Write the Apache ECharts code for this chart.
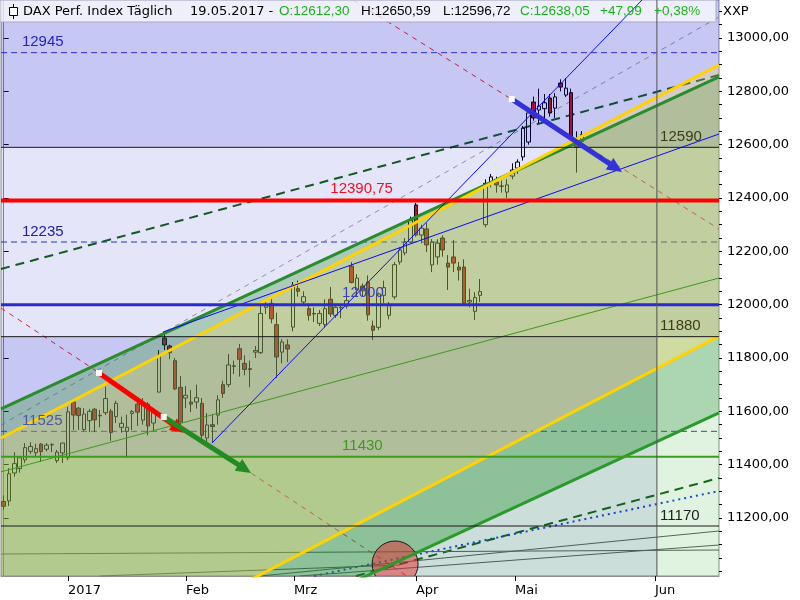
<!DOCTYPE html>
<html><head><meta charset="utf-8">
<script src="https://cdn.jsdelivr.net/npm/echarts@6/dist/echarts.min.js"></script>
<style>html,body{margin:0;padding:0;background:#fff}#c{width:800px;height:600px}</style>
</head><body><div id="c"></div>
<script>
// ================= DATA =================
const dates = ['2016-12-14','12-15','12-16','12-19','12-20','12-21','12-22','12-23','12-27','12-28','12-29','12-30',
 '2017-01-02','01-03','01-04','01-05','01-06','01-09','01-10','01-11','01-12','01-13','01-16','01-17','01-18','01-19','01-20','01-23','01-24','01-25','01-26','01-27','01-30','01-31',
 '02-01','02-02','02-03','02-06','02-07','02-08','02-09','02-10','02-13','02-14','02-15','02-16','02-17','02-20','02-21','02-22','02-23','02-24','02-27','02-28',
 '03-01','03-02','03-03','03-06','03-07','03-08','03-09','03-10','03-13','03-14','03-15','03-16','03-17','03-20','03-21','03-22','03-23','03-24','03-27','03-28','03-29','03-30','03-31',
 '04-03','04-04','04-05','04-06','04-07','04-10','04-11','04-12','04-13','04-18','04-19','04-20','04-21','04-24','04-25','04-26','04-27','04-28',
 '05-02','05-03','05-04','05-05','05-08','05-09','05-10','05-11','05-12','05-15','05-16','05-17','05-18','05-19'];
const opens = [11262,11264,11369,11385,11418,11450,11445,11477,11458,11474,11415,11444,
 11426,11635,11612,11532,11565,11608,11585,11595,11600,11580,11540,11525,11592,11627,11567,11627,11556,11672,11875,11845,11790,11690,
 11650,11635,11635,11630,11500,11550,11586,11700,11700,11768,11835,11780,11760,11822,11820,11990,12005,11925,11822,11849,
 11916,12060,12010,11985,11965,11930,11925,12020,11960,11990,11995,12145,12055,12070,12085,11920,11915,12035,11960,12029,12160,12194,12235,
 12374,12261,12284,12149,12179,12250,12156,12179,12141,12141,12010,11975,12035,12300,12456,12460,12445,12422,
 12482,12512,12554,12610,12760,12730,12735,12775,12737,12831,12786,12795,12604,12612.30];
const closes = [11244,11366,11404,11426,11464,11468,11460,11449,11473,11476,11447,11481,
 11598,11586,11584,11590,11600,11568,11583,11648,11521,11630,11555,11540,11599,11597,11623,11545,11595,11810,11849,11820,11684,11560,
 11660,11627,11651,11510,11549,11543,11643,11667,11774,11771,11795,11757,11757,11828,11967,11998,11947,11804,11860,11834,
 12074,12050,12030,11960,11967,11967,11985,11965,11990,11988,12015,12083,12100,12052,11962,11904,12040,12064,12000,12150,12205,12235,12317,
 12261,12287,12224,12235,12231,12205,12141,12156,12130,12006,12016,12027,12049,12455,12479,12449,12444,12449,
 12505,12535,12662,12719,12700,12745,12757,12719,12779,12816,12812,12631,12590.06,12638.05];
const lows = [11232,11245,11355,11370,11406,11440,11430,11410,11450,11447,11406,11406,
 11417,11530,11530,11525,11522,11522,11540,11586,11489,11556,11520,11425,11530,11545,11550,11510,11530,11672,11830,11796,11680,11545,
 11612,11597,11610,11500,11481,11481,11550,11650,11690,11740,11730,11735,11690,11800,11815,11965,11930,11725,11780,11785,
 11900,12030,11995,11940,11935,11920,11915,11954,11950,11950,11985,12080,12029,12030,11940,11868,11905,12005,11945,12020,12150,12185,12230,
 12255,12230,12197,12122,12150,12180,12055,12122,12090,11995,11990,11943,12010,12290,12440,12420,12420,12400,
 12470,12490,12540,12600,12690,12680,12690,12705,12700,12800,12779,12620,12495,12596.72];
const highs = [11285,11387,11447,11432,11481,11484,11478,11481,11481,11480,11455,11482,
 11617,11642,11616,11612,11609,11612,11605,11692,11609,11640,11580,11587,11605,11635,11650,11635,11605,11830,11894,11850,11800,11732,
 11695,11680,11700,11650,11593,11590,11660,11715,11815,11790,11853,11810,11790,11845,12010,12015,12030,11970,11870,11870,
 12085,12090,12050,11995,11990,11980,12020,12066,12000,11995,12030,12160,12115,12080,12110,11940,12045,12090,12010,12160,12215,12250,12330,
 12381,12300,12306,12246,12245,12260,12186,12242,12160,12170,12060,12047,12096,12470,12490,12480,12465,12470,
 12530,12545,12670,12740,12780,12810,12790,12790,12793,12845,12850,12810,12650,12650.59];

// x axis: bar index (future area extends to the right)
const monthTickPos = [12, 34.05, 54.2, 77, 95.5, 121.65];
const monthLabels = ['2017','Feb','Mrz','Apr','Mai','Jun'];
const yTickLabels = [11200,11400,11600,11800,12000,12200,12400,12600,12800,13000];
const yMinorTicks = [11000,11050,11100,11150,11200,11250,11300,11350,11400,11450,11500,11550,11600,11650,11700,11750,11800,11850,11900,11950,12000,12050,12100,12150,12200,12250,12300,12350,12400,12450,12500,12550,12600,12650,12700,12750,12800,12850,12900,12950,13000,13050,13100];
const levels = [12945, 12590, 12390.75, 12235, 12000, 11880, 11525, 11430, 11170];
const futureEdge = 122.0;   // vertical line (bar index)

// trend lines: two anchor points each, [bar index, price]
const lineA = [[-0.5, 11609], [133.6, 12854]];
const lineB = [[-0.5, 11500], [133.6, 12899]];
const lineC = [[47.5, 10983], [133.6, 11882]];
const lineD = [[67.8, 10983], [133.6, 11594]];
const lineE = [[-0.5, 11373], [133.6, 12100]];
const blue1 = [[29.76, 11897.5], [133.6, 12640]];
const blue2 = [[38.9, 11481], [125, 13262]];
const grayDash = [[-0.5, 11548.75], [133.6, 13078.75]];
const greenDashUp = [[-0.5, 12133.75], [133.6, 12861.25]];
const greenDashLow = [[65.8, 10982.5], [133.6, 11350]];
const blueDot = [[58.0, 10982.5], [133.6, 11301.25]];
const redDash1 = [[-0.5, 11987.5], [75.3, 10982.5]];
const redDash2 = [[65.25, 13142.5], [133.6, 12283.75]];
const fan0 = [[-0.5, 11065], [133.6, 11080]];
const fan1 = [[47.9, 10982.5], [133.6, 11151.25]];
const fan2 = [[55.3, 10982.5], [133.6, 11098.75]];
const fan3 = [[18.0, 10982.5], [74.0, 11023.75]];
const arrowRed = [[17.8, 11744], [33.9, 11519]];
const arrowGreen = [[29.9, 11579], [46.2, 11369]];
const arrowBlue = [[94.9, 12771], [115.5, 12497.5]];
const circleCenter = [73.1, 11027.5];

// ================= SETUP =================
const X_MIN = -0.5, X_MAX = 133.6, Y_MIN = 10982.5, Y_MAX = 13142.5;
const fmt = v => v.toFixed(2).replace('.', ',');
const lvlText = v => Number.isInteger(v) ? String(v) : fmt(v);
function yAt(l, x) { const [[x1,y1],[x2,y2]] = l; return y1 + (y2 - y1) * (x - x1) / (x2 - x1); }
function xAt(l, y) { const [[x1,y1],[x2,y2]] = l; return x1 + (x2 - x1) * (y - y1) / (y2 - y1); }
function span(l) { return [[X_MIN, yAt(l, X_MIN)], [X_MAX, yAt(l, X_MAX)]]; }
function seg(l, xa, xb) { return [[xa, yAt(l, xa)], [xb, yAt(l, xb)]]; }

const levelStyles = [
  {c:'#3a3ae0', w:1, dash:[6,4], under:true,  lx:3.4,   lc:'#2424c8'},
  {c:'#1a1a1a', w:1, dash:'solid', under:false, lx:122.6, lc:'#3c3c14'},
  {c:'#ff0000', w:4, dash:'solid', under:false, lx:61,    lc:'#f01020'},
  {c:'#2a3ab0', w:1, dash:[6,4], under:true,  lx:3.4,   lc:'#2020a8'},
  {c:'#2a2ad2', w:3, dash:'solid', under:false, lx:63.2,  lc:'#3c3cc4'},
  {c:'#1a1a1a', w:1, dash:'solid', under:false, lx:122.6, lc:'#3c3c14'},
  {c:'#3a4aa0', w:1, dash:[6,4], under:true,  lx:3.4,   lc:'#4a5a98'},
  {c:'#3c9c1c', w:2, dash:'solid', under:false, lx:63.2,  lc:'#3c9a1c'},
  {c:'#1a1a1a', w:1, dash:'solid', under:false, lx:122.6, lc:'#202020'}
];

const dR = seg(lineD, futureEdge, X_MAX);
const cX = xAt(lineC, 11430), cFE = [futureEdge, yAt(lineC, futureEdge)];
const overlays = [
  {pts:[[X_MIN,12590],[X_MAX,12590],[X_MAX,Y_MAX],[X_MIN,Y_MAX]], fill:'rgba(0,0,200,0.22)'},
  {pts:[[X_MIN,11880],[X_MAX,11880],[X_MAX,12590],[X_MIN,12590]], fill:'rgba(0,0,200,0.10)'},
  {pts:[[X_MIN,11430],[cX,11430],cFE,[futureEdge,11880],[X_MIN,11880]], fill:'rgba(0,0,200,0.22)'},
  {pts:[[X_MIN,Y_MIN],[futureEdge,Y_MIN],cFE,[cX,11430],[X_MIN,11430]], fill:'rgba(0,90,70,0.20)'},
  {pts:[[futureEdge,Y_MIN],[X_MAX,Y_MIN],dR[1],dR[0]], fill:'rgba(0,160,0,0.12)'},
  {pts:[span(lineA)[0], span(lineA)[1], span(lineD)[1], span(lineD)[0]], fill:'rgba(40,140,40,0.30)'},
  {pts:[span(lineB)[0], span(lineB)[1], span(lineC)[1], span(lineC)[0]], fill:'rgba(255,220,80,0.25)'},
  {pts:[span(lineC)[0], span(lineC)[1], span(lineD)[1], span(lineD)[0]], fill:'rgba(0,160,60,0.09)'}
];

const series = [];
function addLine(pts, color, width, type, z) {
  series.push({type:'line', data:pts, symbol:'none', silent:true, z:z, animation:false,
    lineStyle:{color:color, width:width, type:type || 'solid'}});
}

series.push({
  type:'candlestick', z:2, animation:false, barWidth:4,
  dimensions:['idx','open','close','lowest','highest'],
  encode:{x:'idx', y:['open','close','lowest','highest']},
  data: dates.map((d,i)=>[i, opens[i], closes[i], lows[i], highs[i]]),
  itemStyle:{color:'rgba(0,0,0,0)', color0:'#e01010', borderColor:'#000', borderColor0:'#000', borderWidth:1}
});

levels.forEach((v,i)=>{ const s = levelStyles[i]; if (s.under) addLine([[X_MIN,v],[X_MAX,v]], s.c, s.w, s.dash, 1); });
addLine(span(grayDash), '#a0a0a0', 1, [5,5], 1);
addLine(span(greenDashUp), '#146414', 2, [9,6], 1);
addLine(greenDashLow, '#146414', 2, [9,6], 1);
addLine(blueDot, '#1e3cf0', 2, [2,4], 1);
addLine(redDash1, '#ff2020', 1, [5,5], 1);
addLine(redDash2, '#ff2020', 1, [5,5], 1);
addLine(fan0, '#606060', 1, 'solid', 1);
addLine(fan1, '#606060', 1, 'solid', 1);
addLine(fan2, '#606060', 1, 'solid', 1);
addLine(fan3, '#606060', 1, 'solid', 1);

series.push({type:'custom', z:3, clip:true, silent:true, animation:false,
  data: overlays.map(()=>[X_MIN, Y_MIN]),
  renderItem:(params, api)=>{ const o = overlays[params.dataIndex];
    return {type:'polygon', shape:{points:o.pts.map(p=>api.coord(p))}, style:{fill:o.fill}}; }
});

series.push({type:'custom', z:4, clip:true, silent:true, animation:false, data:[circleCenter],
  renderItem:(params, api)=>{ const p = api.coord(circleCenter);
    return {type:'circle', shape:{cx:p[0], cy:p[1], r:23}, style:{fill:'rgba(225,45,45,0.5)', stroke:'#1a1a1a', lineWidth:1}}; }
});

addLine(span(lineA), '#2a8c2a', 3, 'solid', 6);
addLine(span(lineB), '#ffd200', 3, 'solid', 6);
addLine(span(lineC), '#ffd200', 3, 'solid', 6);
addLine(span(lineD), '#2a9a2a', 3, 'solid', 6);
addLine(span(lineE), '#3c9a1c', 1, 'solid', 6);
addLine(blue1, '#0a0aff', 1, 'solid', 6);
addLine(blue2, '#0a0aff', 1, 'solid', 6);
levels.forEach((v,i)=>{ const s = levelStyles[i]; if (!s.under) addLine([[X_MIN,v],[X_MAX,v]], s.c, s.w, s.dash, 6); });
addLine([[futureEdge,Y_MIN],[futureEdge,Y_MAX]], '#505050', 1, 'solid', 6);

const arrows = [arrowRed, arrowGreen, arrowBlue];
const arrowColors = ['#ff0000', '#228b22', '#3232d8'];
series.push({type:'custom', z:7, clip:true, silent:true, animation:false, data:arrows.map(a=>a[0]),
  renderItem:(params, api)=>{
    const a = arrows[params.dataIndex], col = arrowColors[params.dataIndex];
    const p0 = api.coord(a[0]), p1 = api.coord(a[1]);
    const dx = p1[0]-p0[0], dy = p1[1]-p0[1], L = Math.hypot(dx,dy);
    const ux = dx/L, uy = dy/L, nx = -uy, ny = ux, hl = 15, hw = 7;
    const bx = p1[0]-ux*hl, by = p1[1]-uy*hl;
    return {type:'group', children:[
      {type:'line', shape:{x1:p0[0], y1:p0[1], x2:bx+ux*3, y2:by+uy*3}, style:{stroke:col, lineWidth:5}},
      {type:'polygon', shape:{points:[[p1[0],p1[1]],[bx+nx*hw,by+ny*hw],[bx-nx*hw,by-ny*hw]]}, style:{fill:col}},
      {type:'rect', shape:{x:p0[0]-3, y:p0[1]-3, width:6, height:6}, style:{fill:'#ffffff'}}
    ]};
  }
});

series.push({type:'custom', z:8, clip:false, silent:true, animation:false, data:levels.map(v=>[X_MIN, v]),
  renderItem:(params, api)=>{
    const v = levels[params.dataIndex], s = levelStyles[params.dataIndex];
    const p = api.coord([s.lx, v]);
    return {type:'text', x:p[0], y:p[1] - (s.w > 2 ? 4 : 3),
      style:{text:lvlText(v), fill:s.lc, font:'15px "Liberation Sans"', align:'left', verticalAlign:'bottom',
             textAlign:'left', textVerticalAlign:'bottom'}};
  }
});

const n = closes.length - 1;
const chg = closes[n] - closes[n-1];
const pct = chg / closes[n-1] * 100;
const G = '#19b419';
const fTitle = '13px "DejaVu Sans"', fVal = '13.5px "Liberation Sans"';
const hdr = [
  [23, 'DAX Perf. Index Täglich', '#000', fTitle],
  [190, '19.05.2017 -', '#000', fTitle],
  [279, 'O:' + fmt(opens[n]), G, fVal],
  [361, 'H:' + fmt(highs[n]), '#000', fVal],
  [443, 'L:' + fmt(lows[n]), '#000', fVal],
  [520, 'C:' + fmt(closes[n]), G, fVal],
  [600, '+' + fmt(chg), G, fVal],
  [654, '+' + fmt(pct) + '%', G, fVal]
];
const graphic = [
  {type:'rect', z:5, shape:{x:0, y:0, width:716, height:22}, style:{fill:'rgba(255,255,255,0.72)', stroke:'#a8a8c8', lineWidth:1}},
  {type:'line', z:9, shape:{x1:13.5, y1:4, x2:13.5, y2:19}, style:{stroke:'#000', lineWidth:1}},
  {type:'rect', z:9, shape:{x:9.5, y:7.5, width:8, height:8}, style:{fill:'#fff', stroke:'#000', lineWidth:1}},
  {type:'text', z:9, left:723, top:5, style:{text:'XXP', fill:'#000', font:'13px "DejaVu Sans"'}}
].concat(hdr.map(h=>({type:'text', z:9, x:h[0], y:11.5, style:{text:h[1], fill:h[2], font:h[3], textVerticalAlign:'middle', verticalAlign:'middle'}})));

const chart = echarts.init(document.getElementById('c'));
chart.setOption({
  animation:false,
  backgroundColor:'#ffffff',
  grid:{left:1, right:81, top:0, bottom:24, show:true, borderColor:'#909090', borderWidth:1, backgroundColor:'#ffffff'},
  xAxis:{type:'value', min:X_MIN, max:X_MAX, position:'bottom',
    axisLine:{show:true, lineStyle:{color:'#909090'}},
    axisTick:{show:true, customValues:monthTickPos, length:5, lineStyle:{color:'#000'}},
    axisLabel:{show:true, customValues:monthTickPos, align:'left', margin:8, color:'#000', fontSize:13, fontFamily:'DejaVu Sans',
      formatter:v=>{ const i = monthTickPos.findIndex(t=>Math.abs(t-v)<1e-6); return i>=0 ? monthLabels[i] : ''; }},
    splitLine:{show:false}},
  yAxis:[
    {type:'value', min:Y_MIN, max:Y_MAX, position:'right',
      axisLine:{show:true, lineStyle:{color:'#909090'}},
      axisTick:{show:true, customValues:yTickLabels, length:5, lineStyle:{color:'#000'}},
      axisLabel:{show:true, customValues:yTickLabels, formatter:v=>fmt(v), color:'#000', fontSize:13, fontFamily:'DejaVu Sans', margin:8},
      splitLine:{show:false}},
    {type:'value', min:Y_MIN, max:Y_MAX, position:'right',
      axisLine:{show:false}, axisLabel:{show:false}, splitLine:{show:false},
      axisTick:{show:true, customValues:yMinorTicks, length:3, lineStyle:{color:'#000'}}}
  ],
  graphic: graphic,
  series: series
});
</script></body></html>
